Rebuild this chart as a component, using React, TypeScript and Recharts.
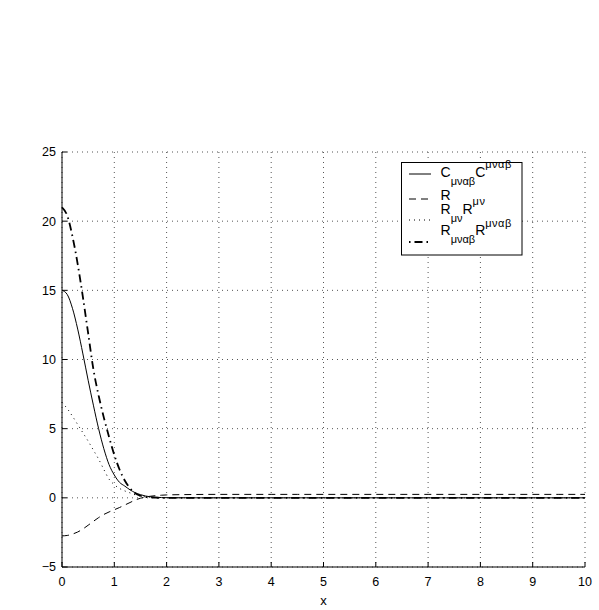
import React from 'react';
import { LineChart, Line, XAxis, YAxis, CartesianGrid, Legend } from 'recharts';

// x positions of samples
const xValues = [
  0, 0.1, 0.2, 0.3, 0.4, 0.5, 0.6, 0.7, 0.8, 0.9, 1.0, 1.1, 1.2, 1.3, 1.4, 1.5, 1.6, 1.7, 1.8, 1.9, 2.0,
  2.5, 3, 3.5, 4, 4.5, 5, 5.5, 6, 6.5, 7, 7.5, 8, 8.5, 9, 9.5, 10,
];
// C_{μναβ}C^{μναβ}
const weylSquared = [
  15.0, 14.7, 13.7, 12.2, 10.4, 8.5, 6.7, 5.0, 3.55, 2.4, 1.65, 1.12, 0.85, 0.58, 0.37, 0.23, 0.13, 0.07, 0.04, 0.02, 0.01,
  0, 0, 0, 0, 0, 0, 0, 0, 0, 0, 0, 0, 0, 0, 0, 0,
];
// R
const ricciScalar = [
  -2.75, -2.72, -2.62, -2.47, -2.25, -1.98, -1.7, -1.43, -1.2, -1.02, -0.86, -0.7, -0.52, -0.34, -0.16, -0.03, 0.06, 0.12, 0.16, 0.19, 0.21,
  0.24, 0.25, 0.25, 0.25, 0.25, 0.25, 0.25, 0.25, 0.25, 0.25, 0.25, 0.25, 0.25, 0.25, 0.25, 0.25,
];
// R_{μν}R^{μν}
const ricciSquared = [
  6.9, 6.45, 5.9, 5.3, 4.7, 4.1, 3.45, 2.8, 2.05, 1.35, 0.95, 0.68, 0.5, 0.36, 0.22, 0.13, 0.07, 0.04, 0.02, 0.01, 0,
  0, 0, 0, 0, 0, 0, 0, 0, 0, 0, 0, 0, 0, 0, 0, 0,
];
// R_{μναβ}R^{μναβ}
const kretschmann = [
  21.0, 20.4, 18.9, 16.9, 14.5, 11.9, 9.3, 7.4, 5.8, 4.4, 3.1, 2.05, 1.25, 0.7, 0.33, 0.15, 0.06, 0.03, 0.01, 0, 0,
  0, 0, 0, 0, 0, 0, 0, 0, 0, 0, 0, 0, 0, 0, 0, 0,
];

const xTicks = [0, 1, 2, 3, 4, 5, 6, 7, 8, 9, 10];
const yTicks = [-5, 0, 5, 10, 15, 20, 25];
const xLabel = 'x';

const legendItems = [
  { key: 'c', base: 'C', sub: 'μναβ', base2: 'C', sup: 'μναβ', dash: undefined as string | undefined, width: 1 },
  { key: 'r', base: 'R', sub: '', base2: '', sup: '', dash: '7 5', width: 1 },
  { key: 'rr', base: 'R', sub: 'μν', base2: 'R', sup: 'μν', dash: '1 4', width: 1 },
  { key: 'k', base: 'R', sub: 'μναβ', base2: 'R', sup: 'μναβ', dash: '1.5 4 8 4', width: 2 },
];

const data = xValues.map((x, i) => ({
  x,
  c: weylSquared[i],
  r: ricciScalar[i],
  rr: ricciSquared[i],
  k: kretschmann[i],
}));

const FONT = '"Liberation Sans", Arial, Helvetica, sans-serif';

const fmt = (v: number) => (v < 0 ? '\u2212' + Math.abs(v) : String(v));

const rowY = [12, 37, 58, 80];
const baseY = [14.5, 37.5, 52, 73];
const subDy = [8, 0, 7.5, 8];
const supDy = [-8.5, 0, -9, -8];

const renderLegend = () => (
  <svg width={122} height={94} style={{ display: 'block', overflow: 'visible' }}>
    <rect x={0.5} y={0.5} width={120.5} height={92.5} fill="#fff" stroke="#000" strokeWidth={1} />
    {legendItems.map((it, i) => (
      <g key={it.key}>
        <line
          x1={8}
          x2={30}
          y1={rowY[i]}
          y2={rowY[i]}
          stroke="#000"
          strokeWidth={it.width}
          strokeDasharray={it.dash}
        />
        <text x={39.5} y={baseY[i]} fontSize={14} fontFamily={FONT} fill="#000">
          {it.base}
          {it.sub ? (
            <tspan fontSize={11} dy={subDy[i]}>
              {it.sub}
            </tspan>
          ) : null}
          {it.base2 ? (
            <tspan fontSize={14} dy={-subDy[i]}>
              {it.base2}
            </tspan>
          ) : null}
          {it.sup ? (
            <tspan fontSize={11} dy={supDy[i]} letterSpacing={0.5}>
              {it.sup}
            </tspan>
          ) : null}
        </text>
      </g>
    ))}
  </svg>
);

export default function App() {
  const tickStyle = { fontSize: 12.5, fontFamily: FONT, fill: '#000' };
  return (
    <div style={{ position: 'absolute', left: 0, top: 0, width: 599, height: 610, background: '#fff' }}>
      <LineChart
        width={599}
        height={610}
        data={data}
        margin={{ top: 152, right: 14, bottom: 0, left: 0 }}
      >
        <CartesianGrid stroke="#555" strokeDasharray="1 4" strokeWidth={1} />
        <XAxis
          dataKey="x"
          type="number"
          domain={[0, 10]}
          ticks={xTicks}
          interval={0}
          height={43}
          tickSize={-5}
          tickMargin={15}
          tickLine={{ stroke: '#000' }}
          axisLine={{ stroke: '#000' }}
          tick={tickStyle}
          tickFormatter={fmt}
          label={{ value: xLabel, position: 'insideBottom', offset: 5, fontSize: 13, fontFamily: FONT, fill: '#000' }}
        />
        <XAxis
          xAxisId="top"
          dataKey="x"
          type="number"
          orientation="top"
          domain={[0, 10]}
          allowDataOverflow
          ticks={xTicks}
          interval={0}
          height={0}
          mirror
          tick={false}
          tickSize={5}
          tickLine={{ stroke: '#000' }}
          axisLine={{ stroke: '#000' }}
        />
        <YAxis
          type="number"
          domain={[-5, 25]}
          ticks={yTicks}
          interval={0}
          width={62}
          tickSize={-5}
          tickMargin={11}
          tickLine={{ stroke: '#000' }}
          axisLine={{ stroke: '#000' }}
          tick={tickStyle}
          tickFormatter={fmt}
        />
        <YAxis
          yAxisId="right"
          type="number"
          orientation="right"
          domain={[-5, 25]}
          allowDataOverflow
          ticks={yTicks}
          interval={0}
          width={0}
          mirror
          tick={false}
          tickSize={5}
          tickLine={{ stroke: '#000' }}
          axisLine={{ stroke: '#000' }}
        />
        <Legend
          content={renderLegend}
          layout="vertical"
          align="center"
          verticalAlign="middle"
          wrapperStyle={{ position: 'absolute', left: 401, top: 162, width: 122, height: 94, margin: 0, padding: 0 }}
        />
        <Line dataKey="c" type="monotone" stroke="#000" strokeWidth={1} dot={false} isAnimationActive={false} />
        <Line dataKey="r" type="monotone" stroke="#000" strokeWidth={1} strokeDasharray="7 5" dot={false} isAnimationActive={false} />
        <Line dataKey="rr" type="monotone" stroke="#000" strokeWidth={1} strokeDasharray="1 4" dot={false} isAnimationActive={false} />
        <Line dataKey="k" type="monotone" stroke="#000" strokeWidth={1.8} strokeDasharray="8 4 1.5 4" dot={false} isAnimationActive={false} />
      </LineChart>
    </div>
  );
}
